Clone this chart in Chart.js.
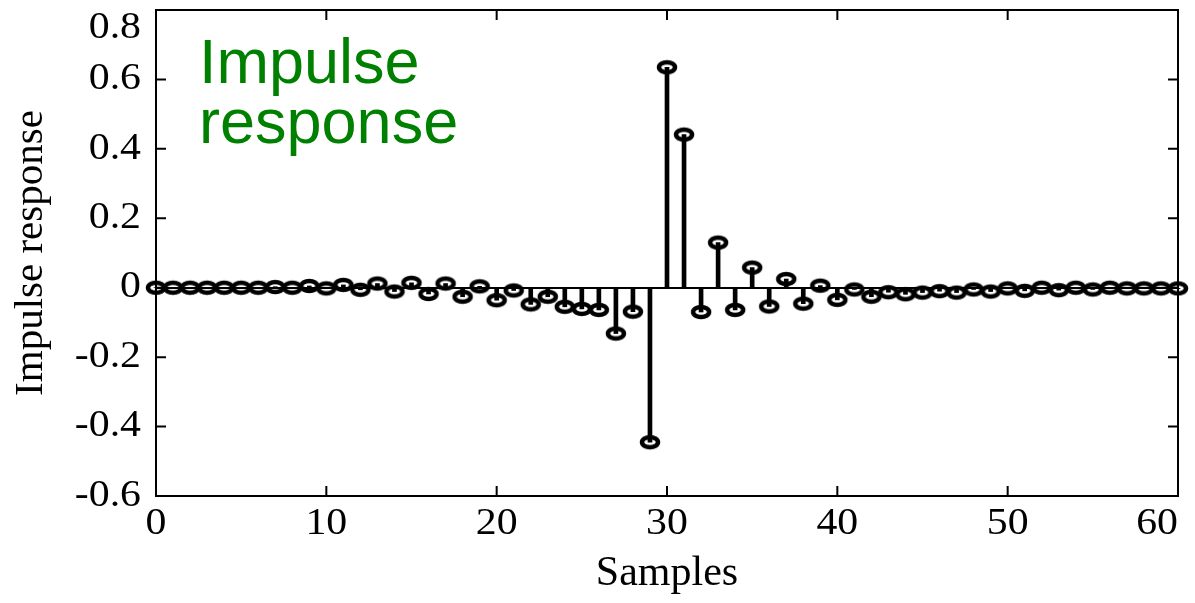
<!DOCTYPE html>
<html>
<head>
<meta charset="utf-8">
<script src="https://cdn.jsdelivr.net/npm/chart.js@4.4.0/dist/chart.umd.min.js"></script>
<style>
    html, body { margin: 0; padding: 0; background: #fff; }
    #wrap { width: 1195px; height: 603px; }
</style>
</head>
<body>
<div id="wrap"><canvas id="myChart"></canvas></div>
<script>
// sample index n = 0..60
const samples = [
    0, 1, 2, 3, 4, 5, 6, 7, 8, 9,
    10, 11, 12, 13, 14, 15, 16, 17, 18, 19,
    20, 21, 22, 23, 24, 25, 26, 27, 28, 29,
    30, 31, 32, 33, 34, 35, 36, 37, 38, 39,
    40, 41, 42, 43, 44, 45, 46, 47, 48, 49,
    50, 51, 52, 53, 54, 55, 56, 57, 58, 59,
    60
];
// h[n]
const response = [
    0, 0, 0, 0, 0, 0, 0, 0.002, 0, 0.005,
    -0.002, 0.008, -0.006, 0.012, -0.011, 0.014, -0.018, 0.012, -0.026, 0.004,
    -0.036, -0.008, -0.048, -0.026, -0.055, -0.061, -0.064, -0.132, -0.069, -0.445,
    0.635, 0.441, -0.070, 0.130, -0.064, 0.058, -0.054, 0.025, -0.046, 0.006,
    -0.035, -0.005, -0.026, -0.013, -0.019, -0.014, -0.010, -0.014, -0.005, -0.011,
    -0.002, -0.009, 0, -0.007, 0, -0.005, 0, -0.002, -0.002, -0.002,
    -0.002
];
const xTicks = [0, 10, 20, 30, 40, 50, 60];
const yTicks = [-0.6, -0.4, -0.2, 0, 0.2, 0.4, 0.6, 0.8];
const yTickLabels = ['-0.6', '-0.4', '-0.2', '0', '0.2', '0.4', '0.6', '0.8'];

const tickFont = '37px "Liberation Serif", "Times New Roman", serif';
const stretch = 1.13; // the source text is a bit wide

// open ellipse marker like the matlab 'o' after squashing
function makeMarker() {
    const c = document.createElement('canvas');
    c.width = 26;
    c.height = 18;
    const g = c.getContext('2d');
    g.strokeStyle = '#000';
    g.lineWidth = 4.5;
    g.beginPath();
    g.ellipse(13, 9, 8, 5, 0, 0, Math.PI * 2);
    g.stroke();
    return c;
}

// draw text at (x, y) widened horizontally
function wideText(ctx, txt, x, y) {
    ctx.save();
    ctx.translate(x, y);
    ctx.scale(stretch, 1);
    ctx.fillText(txt, 0, 0);
    ctx.restore();
}

const points = samples.map((s, i) => ({ x: s, y: response[i] }));

const framePlugin = {
    id: 'frame',
    beforeDatasetsDraw(chart) {
        const { ctx, chartArea: a, scales } = chart;
        ctx.save();
        ctx.strokeStyle = '#000';
        ctx.lineWidth = 2;
        ctx.strokeRect(a.left, a.top, a.right - a.left, a.bottom - a.top);
        ctx.beginPath();
        xTicks.forEach(v => {
            const px = scales.x.getPixelForValue(v);
            ctx.moveTo(px, a.bottom); ctx.lineTo(px, a.bottom - 10);
            ctx.moveTo(px, a.top); ctx.lineTo(px, a.top + 10);
        });
        yTicks.forEach(v => {
            const py = scales.y.getPixelForValue(v);
            ctx.moveTo(a.left, py); ctx.lineTo(a.left + 10, py);
            ctx.moveTo(a.right, py); ctx.lineTo(a.right - 10, py);
        });
        ctx.stroke();
        ctx.restore();
    },
    afterDraw(chart) {
        const { ctx, chartArea: a, scales } = chart;
        ctx.save();
        ctx.fillStyle = '#000';
        ctx.font = tickFont;
        ctx.textBaseline = 'middle';

        // y tick labels, top one kept inside the frame
        ctx.textAlign = 'right';
        yTicks.forEach((v, i) => {
            const py = Math.max(scales.y.getPixelForValue(v), a.top + 18);
            wideText(ctx, yTickLabels[i], a.left - 15, py);
        });

        // x tick labels, last one kept inside the frame
        ctx.textAlign = 'center';
        xTicks.forEach(v => {
            const txt = String(v);
            const w = ctx.measureText(txt).width * stretch;
            const px = Math.min(scales.x.getPixelForValue(v), a.right - w / 2);
            wideText(ctx, txt, px, a.bottom + 28);
        });

        // green label in the plot
        ctx.fillStyle = '#008000';
        ctx.font = '63px "Liberation Sans", Arial, sans-serif';
        ctx.textAlign = 'left';
        ctx.textBaseline = 'alphabetic';
        ctx.fillText('Impulse', a.left + 43, a.top + 73);
        ctx.fillText('response', a.left + 43, a.top + 133);
        ctx.restore();
    }
};

const ctx = document.getElementById('myChart').getContext('2d');

new Chart(ctx, {
    type: 'bar',
    data: {
        datasets: [{
            type: 'line',
            data: points,
            showLine: false,
            pointStyle: makeMarker(),
            pointRadius: 9,
            pointHoverRadius: 9,
            clip: false,
            order: 1,
        }, {
            type: 'bar',
            data: points,
            backgroundColor: '#000',
            borderWidth: 0,
            barThickness: 4,
            grouped: false,
            clip: false,
            order: 2,
        }]
    },
    options: {
        responsive: true,
        maintainAspectRatio: false,
        animation: false,
        layout: {
            padding: { top: 7, right: 17, left: 0, bottom: 0 }
        },
        plugins: {
            legend: { display: false },
            tooltip: { enabled: false },
        },
        scales: {
            x: {
                type: 'linear',
                min: 0,
                max: 60,
                offset: false,
                grid: { display: false },
                border: { display: false },
                ticks: { display: false, stepSize: 10 },
                title: {
                    display: true,
                    text: 'Samples',
                    color: '#000',
                    font: { family: '"Liberation Serif", "Times New Roman", serif', size: 42 },
                    padding: { top: 0, bottom: 4 }
                },
                afterFit: s => {
                    s.height = 107;
                    s.paddingLeft = 0;
                    s.paddingRight = 0;
                }
            },
            y: {
                min: -0.6,
                max: 0.8,
                grid: {
                    drawTicks: false,
                    lineWidth: 2,
                    color: c => Math.abs(c.tick.value) < 1e-9 ? '#000' : 'rgba(0,0,0,0)',
                },
                border: { display: false },
                ticks: { display: false, stepSize: 0.2 },
                title: {
                    display: true,
                    text: 'Impulse response',
                    color: '#000',
                    font: { family: '"Liberation Serif", "Times New Roman", serif', size: 41 },
                    padding: { top: 7, bottom: 0 }
                },
                afterFit: s => {
                    s.width = 156;
                    s.paddingTop = 0;
                    s.paddingBottom = 0;
                }
            }
        }
    },
    plugins: [framePlugin]
});
</script>
</body>
</html>
